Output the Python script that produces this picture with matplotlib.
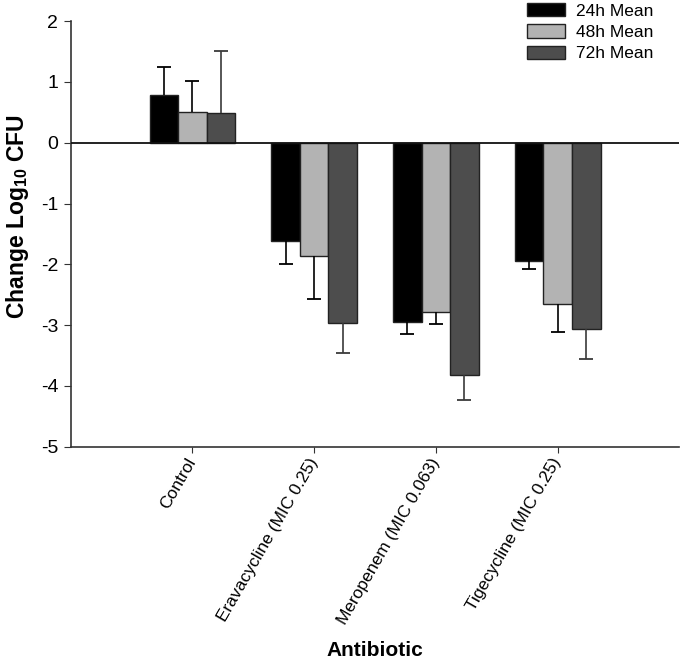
import numpy as np
import matplotlib
matplotlib.use('Agg')
import matplotlib.pyplot as plt

plt.rcParams['font.family'] = ['Liberation Sans', 'DejaVu Sans']
plt.rcParams['mathtext.fontset'] = 'custom'
plt.rcParams['mathtext.rm'] = 'Liberation Sans'
plt.rcParams['mathtext.bf'] = 'Liberation Sans:bold'
plt.rcParams['axes.unicode_minus'] = False

categories = ['Control', 'Eravacycline (MIC 0.25)', 'Meropenem (MIC 0.063)', 'Tigecycline (MIC 0.25)']
series = ['24h Mean', '48h Mean', '72h Mean']

mean_24h = [0.78, -1.61, -2.94, -1.94]
mean_48h = [0.50, -1.86, -2.79, -2.65]
mean_72h = [0.49, -2.96, -3.82, -3.06]

err_24h = [0.46, 0.38, 0.20, 0.13]
err_48h = [0.51, 0.71, 0.19, 0.46]
err_72h = [1.02, 0.50, 0.41, 0.49]

colors = ['#000000', '#b3b3b3', '#4d4d4d']
ecolors = ['#000000', '#000000', '#3a3a3a']

fig = plt.figure(figsize=(6.8, 6.59), dpi=100)
ax = fig.add_axes([0.104, 0.322, 0.895, 0.646])

x = np.arange(len(categories))
w = 0.235
means = [mean_24h, mean_48h, mean_72h]
errs = [err_24h, err_48h, err_72h]

for i in range(3):
    m = np.array(means[i])
    e = np.array(errs[i])
    xp = x + (i - 1) * w
    ax.bar(xp, m, w, color=colors[i], edgecolor='#222222',
           linewidth=1, label=series[i], zorder=2)
    # one-sided error bars, pointing away from zero
    tip = m + np.sign(m) * e
    ax.vlines(xp, m, tip, color=ecolors[i], linewidth=1.2, zorder=3)
    ax.plot(xp, tip, linestyle='none', marker='_', markersize=9.5,
            markeredgewidth=1.3, color=ecolors[i], zorder=3)

ax.axhline(0, color='#111111', linewidth=1.3, zorder=4)

ax.set_xlim(-1, 4)
ax.set_ylim(-5, 2)
ax.set_yticks(np.arange(-5, 3, 1))
ax.set_xticks(x)
ax.set_xticklabels(categories, rotation=60, ha='right', va='center', rotation_mode='anchor', fontsize=12.5)
ax.tick_params(axis='y', labelsize=14, length=5, direction='out', color='#333333', pad=4)
ax.tick_params(axis='x', length=4, direction='out', color='#333333', pad=5)

for s in ['top', 'right']:
    ax.spines[s].set_visible(False)
for s in ['left', 'bottom']:
    ax.spines[s].set_color('#333333')
    ax.spines[s].set_linewidth(1.2)

fig.text(18 / 680, 1 - 217 / 659, r'Change Log$_{\mathbf{10}}$ CFU', fontsize=16.5,
         fontweight='bold', rotation=90, ha='center', va='center')
fig.text(375 / 680, 1 - 650 / 659, 'Antibiotic', fontsize=15, fontweight='bold',
         ha='center', va='center')

leg = fig.legend(loc='upper left', bbox_to_anchor=(0.765, 1.006), frameon=False,
                 fontsize=12.5, handlelength=2.2, handleheight=0.8, labelspacing=0.33,
                 handletextpad=0.6, borderaxespad=0)

fig.savefig('out.png', dpi=100)
